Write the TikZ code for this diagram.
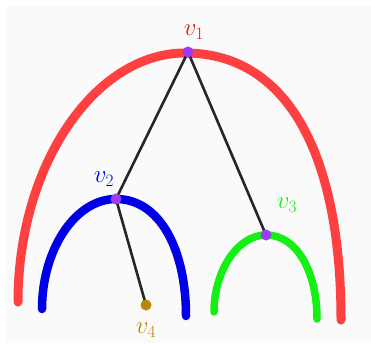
\documentclass[tikz,border=0pt]{standalone}
\begin{document}
\begin{tikzpicture}[x=1pt,y=-1pt,
  arcline/.style={line width=#1, line cap=round},
  edge/.style={line width=2.6pt, draw=black!85, line cap=round},
  dot/.style={circle, fill=#1, minimum size=11pt, inner sep=0pt},
  lab/.style={font=\fontsize{26}{26}\selectfont, text=#1}]
\definecolor{cred}{RGB}{255,64,64}
\definecolor{cblue}{RGB}{0,0,232}
\definecolor{cgreen}{RGB}{20,240,20}
\definecolor{cpurple}{RGB}{155,60,240}
\definecolor{cgold}{RGB}{185,135,10}
\definecolor{lred}{RGB}{215,25,25}
\definecolor{bg}{RGB}{250,250,250}
\useasboundingbox (0,0) rectangle (371,343);
\fill[bg] (6,6) rectangle (371,343);
% arcs
\draw[arcline=9pt, cred] (18,302) .. controls (18,165) and (95,53) .. (185,53)
   .. controls (285,53) and (341,150) .. (341,320);
\draw[arcline=8.5pt, cblue] (42,309) .. controls (42,250) and (75,199) .. (116,199)
   .. controls (160,199) and (186,250) .. (186,316);
\draw[arcline=7.5pt, cgreen] (214,312) .. controls (214,272) and (237,235) .. (266,235)
   .. controls (297,235) and (317,272) .. (317,319);
% coordinates
\coordinate (c1) at (188,52);
\coordinate (c2) at (116,199);
\coordinate (c3) at (266,235);
\coordinate (c4) at (146,305);
% edges
\draw[edge] (c1) -- (c2);
\draw[edge] (c1) -- (c3);
\draw[edge] (c2) -- (c4);
% dots
\node[dot=cpurple] (v1) at (c1) {};
\node[dot=cpurple] (v2) at (c2) {};
\node[dot=cpurple] (v3) at (c3) {};
\node[dot=cgold] (v4) at (c4) {};
% labels
\node[lab=lred] (l1) at (194,32) {$v_1$};
\node[lab=cblue] (l2) at (104,179) {$v_2$};
\node[lab=cgreen] (l3) at (287,205) {$v_3$};
\node[lab=cgold] (l4) at (146,330) {$v_4$};
\end{tikzpicture}
\end{document}
